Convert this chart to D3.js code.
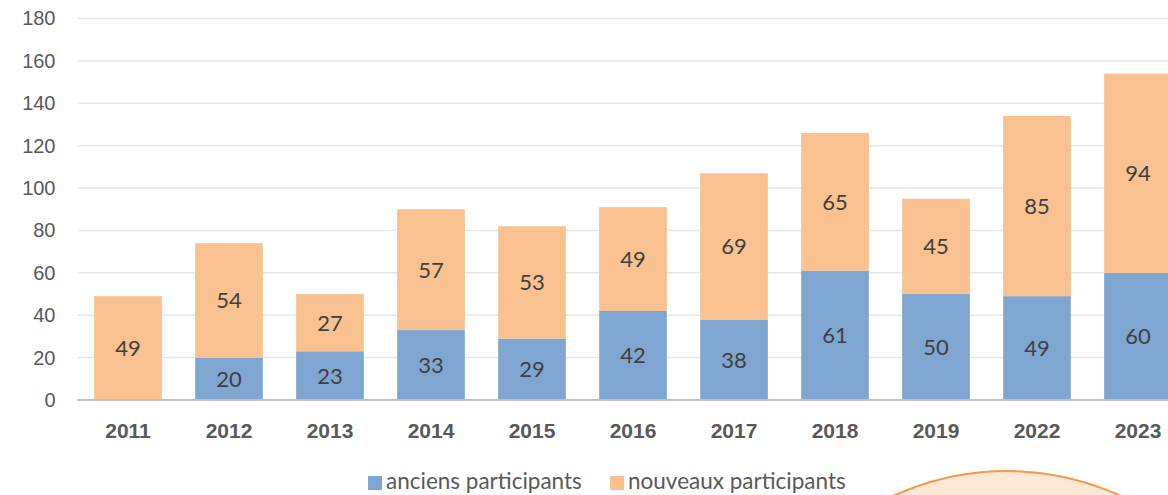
<!DOCTYPE html>
<html>
<head>
<meta charset="utf-8">
<script src="https://cdn.jsdelivr.net/npm/d3@7"></script>
<style>
  body { margin: 0; background: #fff; }
  svg { display: block; font-family: Lato, "Open Sans", sans-serif; }
</style>
</head>
<body>
<svg id="chart" width="1168" height="495"></svg>
<script>
'use strict'

// data
const years = ["2011", "2012", "2013", "2014", "2015", "2016", "2017", "2018", "2019", "2022", "2023"];
const anciens = [0, 20, 23, 33, 29, 42, 38, 61, 50, 49, 60];
const nouveaux = [49, 54, 27, 57, 53, 49, 69, 65, 45, 85, 94];
const yTicks = [0, 20, 40, 60, 80, 100, 120, 140, 160, 180];
const seriesNames = ["anciens participants", "nouveaux participants"];
const colors = ["#7fa6d1", "#f9c18f"];

let svg = d3.select("#chart");

// plot area; the right side runs past the picture edge like the reference
let plotLeft = 77.5, plotRight = 1188.5, plotTop = 18.5, plotBottom = 400;

let x = d3.scaleBand().domain(years).range([plotLeft, plotRight]).paddingInner(0.33).paddingOuter(0.165);
let y = d3.scaleLinear().domain([0, 180]).range([plotBottom, plotTop]);

// decorative circle peeking in at the bottom right
svg.append("circle")
  .attr("cx", 1007).attr("cy", 743).attr("r", 272)
  .attr("fill", "#fde7d5").attr("stroke", "#f79646").attr("stroke-width", 2);

// gridlines
svg.append("g")
  .selectAll("line")
  .data(yTicks.filter(d => d > 0))
  .enter().append("line")
    .attr("x1", plotLeft).attr("x2", 1168)
    .attr("y1", d => y(d)).attr("y2", d => y(d))
    .attr("stroke", "#e6e6e6").attr("stroke-width", 1.5);

// y axis labels
let yAxis = svg.append("g")
  .attr("transform", `translate(${plotLeft},0)`)
  .call(d3.axisLeft(y).tickValues(yTicks).tickSize(0).tickPadding(22));
yAxis.select(".domain").remove();
yAxis.selectAll("text").attr("font-size", 20).attr("fill", "#595959");

// stacked bars
let rows = years.map((yr, i) => ({year: yr, a: anciens[i], n: nouveaux[i]}));
let stack = d3.stack().keys(["a", "n"])(rows);

stack.forEach((layer, k) => {
  let g = svg.append("g");
  g.selectAll("rect")
    .data(layer)
    .enter().append("rect")
      .attr("x", d => x(d.data.year))
      .attr("y", d => y(d[1]))
      .attr("width", x.bandwidth())
      .attr("height", d => y(d[0]) - y(d[1]))
      .attr("fill", colors[k]);
  g.selectAll("text")
    .data(layer.filter(d => d[1] - d[0] > 0))
    .enter().append("text")
      .attr("x", d => x(d.data.year) + x.bandwidth() / 2)
      .attr("y", d => (y(d[0]) + y(d[1])) / 2)
      .attr("dy", "0.36em")
      .attr("text-anchor", "middle")
      .attr("font-size", 22)
      .attr("fill", "#404040")
      .text(d => d[1] - d[0]);
});

// x axis
let xAxis = svg.append("g")
  .attr("transform", `translate(0,${plotBottom})`)
  .call(d3.axisBottom(x).tickSize(0).tickPadding(23));
xAxis.select(".domain").attr("stroke", "#bfbfbf").attr("stroke-width", 2)
  .attr("d", `M${plotLeft},0H1168`);
xAxis.selectAll("text").attr("font-size", 21).attr("font-weight", "bold").attr("fill", "#595959");

// legend
let legendX = [368, 610];
let legend = svg.append("g");
seriesNames.forEach((name, i) => {
  legend.append("rect")
    .attr("x", legendX[i]).attr("y", 476)
    .attr("width", 14).attr("height", 14)
    .attr("fill", colors[i]);
  legend.append("text")
    .attr("x", legendX[i] + 18).attr("y", 489)
    .attr("font-size", 22.5).attr("fill", "#595959")
    .text(name);
});
</script>
</body>
</html>
